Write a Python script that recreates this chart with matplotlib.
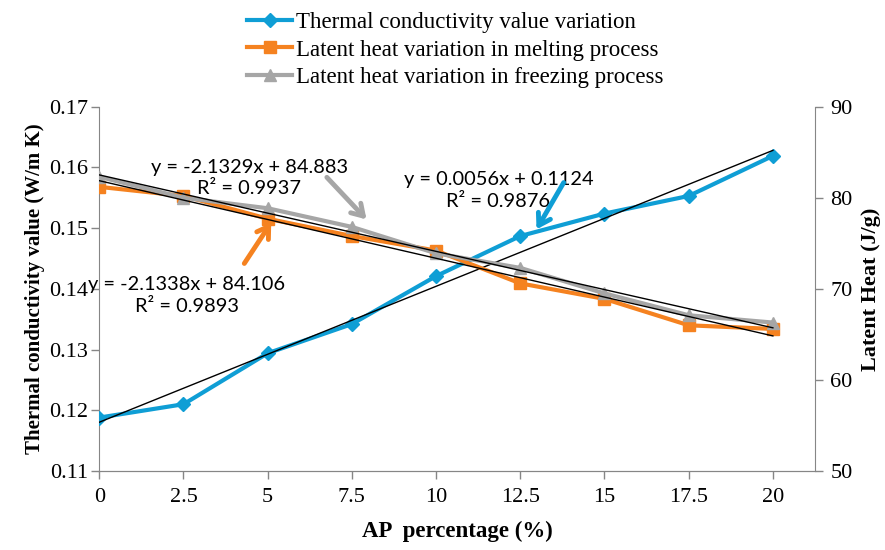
import numpy as np
import matplotlib
matplotlib.use("Agg")
import matplotlib.pyplot as plt

# data
ap = [0, 2.5, 5, 7.5, 10, 12.5, 15, 17.5, 20]
k_val = [0.1188, 0.1210, 0.1294, 0.1342, 0.1421, 0.1487, 0.1524, 0.1553, 0.1619]
lh_melt = [81.2, 80.2, 77.7, 75.8, 74.2, 70.6, 68.9, 66.0, 65.6]
lh_freeze = [82.3, 80.0, 78.85, 76.8, 73.9, 72.3, 69.5, 67.1, 66.3]

labels = ["Thermal conductivity value variation",
          "Latent heat variation in melting process",
          "Latent heat variation in freezing process"]
eq_k = "y = 0.0056x + 0.1124\nR² = 0.9876"
eq_melt = "y = -2.1338x + 84.106\nR² = 0.9893"
eq_freeze = "y = -2.1329x + 84.883\nR² = 0.9937"

blue = "#0F9ED5"
orange = "#F58220"
grey = "#A6A6A6"
axcol = "#868686"

plt.rcParams['font.family'] = ['Liberation Serif', 'DejaVu Serif']

fig = plt.figure(figsize=(8.85, 5.5), dpi=100)
ax = fig.add_axes([0.1122, 0.1436, 0.8087, 0.6624])
ax2 = ax.twinx()

x = np.array(ap)

l1, = ax.plot(x, k_val, color=blue, lw=3, marker="D", ms=7, zorder=3)
l2, = ax2.plot(x, lh_melt, color=orange, lw=3, marker="s", ms=9, zorder=3)
l3, = ax2.plot(x, lh_freeze, color=grey, lw=3, marker="^", ms=9, zorder=3)

# linear trendlines
for a, ys in [(ax, k_val), (ax2, lh_melt), (ax2, lh_freeze)]:
    c = np.polyfit(x, ys, 1)
    a.plot(x[[0, -1]], np.polyval(c, x[[0, -1]]), color="black", lw=1, zorder=4)

ax.set_xlim(0, 21.25)
ax.set_ylim(0.11, 0.17)
ax2.set_ylim(50, 90)
ax.set_xticks(ap)
ax.set_xticklabels(["0", "2.5", "5", "7.5", "10", "12.5", "15", "17.5", "20"])
ax.set_yticks(np.arange(0.11, 0.1701, 0.01))
ax.set_yticklabels(["0.11", "0.12", "0.13", "0.14", "0.15", "0.16", "0.17"])
ax2.set_yticks(np.arange(50, 91, 10))

for a in (ax, ax2):
    for s in a.spines.values():
        s.set_color(axcol)
    a.spines["top"].set_visible(False)
    a.tick_params(colors=axcol, labelcolor="black", labelsize=16, length=6, width=1)
ax.spines["right"].set_visible(False)
ax2.spines["left"].set_visible(False)
ax.tick_params(axis="x", pad=6)
ax.tick_params(axis="y", pad=2)
ax2.tick_params(axis="y", pad=5)

ax.set_xlabel("AP  percentage (%)", fontsize=16.5, fontweight="bold", labelpad=10)
ax.set_ylabel("Thermal conductivity value (W/m K)", fontsize=15, fontweight="bold", labelpad=3)
ax2.set_ylabel("Latent Heat (J/g)", fontsize=16, fontweight="bold", labelpad=6)

# trendline equations
efont = dict(fontsize=14.4, family=["Lato", "DejaVu Sans"], ha="center", va="center",
             linespacing=1.3)
ax.text(11.85, 0.1562, eq_k, **efont)
ax.text(4.45, 0.1583, eq_freeze, **efont)
ax.text(2.6, 0.1389, eq_melt, **efont)

# arrows
arr = dict(arrowstyle="->,head_length=0.8,head_width=0.5", lw=3.5)
ax.annotate("", xy=(12.94, 0.1494), xytext=(13.83, 0.1579),
            arrowprops=dict(color=blue, **arr), zorder=6)
ax.annotate("", xy=(7.99, 0.1511), xytext=(6.70, 0.1587),
            arrowprops=dict(color=grey, **arr), zorder=6)
ax.annotate("", xy=(5.15, 0.1513), xytext=(4.26, 0.1438),
            arrowprops=dict(color=orange, **arr), zorder=6)

fig.legend([l1, l2, l3], labels, loc="upper left", bbox_to_anchor=(0.264, 1.004),
           frameon=False, fontsize=16.5, handlelength=1.95, handletextpad=0.15,
           labelspacing=0.3, borderaxespad=0.2)

fig.savefig("out.png", dpi=100)
